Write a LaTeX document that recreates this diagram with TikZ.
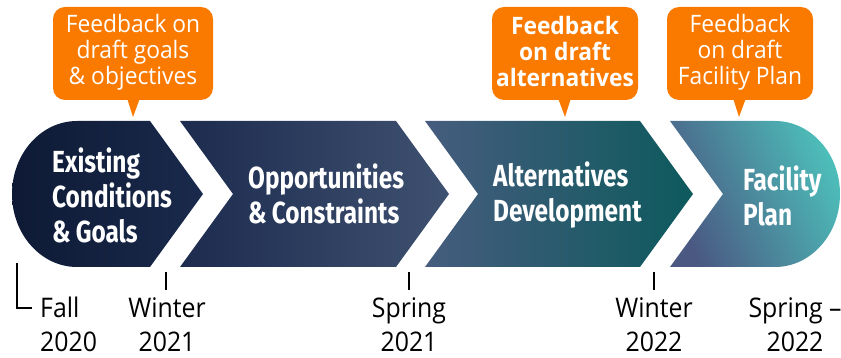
\documentclass[tikz,border=0pt]{standalone}
\usepackage{fontspec}
\newfontfamily\condfont[FakeStretch=0.8]{Fira Sans}
\newfontfamily\uifont[FakeStretch=0.92]{Open Sans}
\newfontfamily\bubblefont[FakeStretch=0.95]{Open Sans}
\definecolor{orng}{HTML}{FA7A00}
\definecolor{cA}{HTML}{0E1A35}
\definecolor{cB}{HTML}{1A2A4C}
\definecolor{cC}{HTML}{1C2B4E}
\definecolor{cD}{HTML}{3F5171}
\definecolor{cE}{HTML}{465C7E}
\definecolor{cF}{HTML}{0D5A5D}
\definecolor{cG}{HTML}{4A5882}
\definecolor{cH}{HTML}{4DBDB9}
\tikzset{
  stagetxt/.style={text=white, align=left, anchor=west, inner sep=0pt,
    font={\condfont\bfseries\fontsize{30.5}{35}\selectfont}},
  bubble/.style={fill=orng, rounded corners=12pt},
  bubbletxt/.style={text=white, align=center, inner sep=0pt,
    font={\bubblefont\fontsize{24}{26}\selectfont}},
  datetxt/.style={text=black, align=center, inner sep=0pt, anchor=north,
    font={\uifont\fontsize{27}{34}\selectfont}},
  tick/.style={line width=1.3pt, black}
}
\begin{document}
\begin{tikzpicture}[x=1pt,y=-1pt]
\useasboundingbox (0,0) rectangle (841,358);
\clip (0,0) rectangle (841,358);
% stages
\path[left color=cA, right color=cB] (77,121) -- (150,121) -- (203,194) -- (150,267) -- (77,267)
  arc[start angle=90, end angle=270, x radius=65, y radius=73] -- cycle;
\path[left color=cC, right color=cD] (180,121) -- (396,121) -- (449,194) -- (396,267) -- (180,267) -- (233,194) -- cycle;
\path[left color=cE, right color=cF] (425,121) -- (640,121) -- (693,194) -- (640,267) -- (425,267) -- (478,194) -- cycle;
\path[shading=axis, top color=cH, bottom color=cG, shading angle=-65] (670,121) -- (775,121)
  arc[start angle=-90, end angle=90, x radius=65, y radius=73] -- (670,267) -- (723,194) -- cycle;
\node[stagetxt] (s1) at (52,195) {Existing\\Conditions\\\&\,Goals};
\node[stagetxt] (s2) at (248,194) {Opportunities\\\&\,Constraints};
\node[stagetxt] (s3) at (493,195) {Alternatives\\Development};
\node[stagetxt] (s4) at (743,196) {Facility\\Plan};
% callouts
\path[bubble] (53,7) rectangle (213,100);
\fill[orng] (127,98) -- (140,98) -- (133,117) -- cycle;
\node[bubbletxt] (b1) at (133,52) {Feedback on\\draft goals\\\& objectives};
\path[bubble] (492,7) rectangle (638,100);
\fill[orng] (558,98) -- (571,98) -- (565,117) -- cycle;
\node[bubbletxt, font={\bubblefont\bfseries\fontsize{24}{26}\selectfont}] (b2) at (565,52) {Feedback\\on draft\\alternatives};
\path[bubble] (667,7) rectangle (813,100);
\fill[orng] (733,98) -- (746,98) -- (739,117) -- cycle;
\node[bubbletxt] (b3) at (740,52) {Feedback\\on draft\\Facility Plan};
% timeline
\node[datetxt, align=left, anchor=north west] (d1) at (40,297) {Fall\\2020};
\node[datetxt] (d2) at (167,297) {Winter\\2021};
\node[datetxt] (d3) at (409,297) {Spring\\2021};
\node[datetxt] (d4) at (654,297) {Winter\\2022};
\node[datetxt] (d5) at (795,297) {Spring –\\2022};
\coordinate (k0a) at (17,263); \coordinate (k0b) at (17,308); \coordinate (k0c) at (32,308);
\draw[tick] (k0a) -- (k0b) -- (k0c);
\coordinate (k1) at (166,272); \draw[tick] (k1) -- ++(0,18);
\coordinate (k2) at (409,272); \draw[tick] (k2) -- ++(0,18);
\coordinate (k3) at (654,272); \draw[tick] (k3) -- ++(0,18);
\end{tikzpicture}
\end{document}
